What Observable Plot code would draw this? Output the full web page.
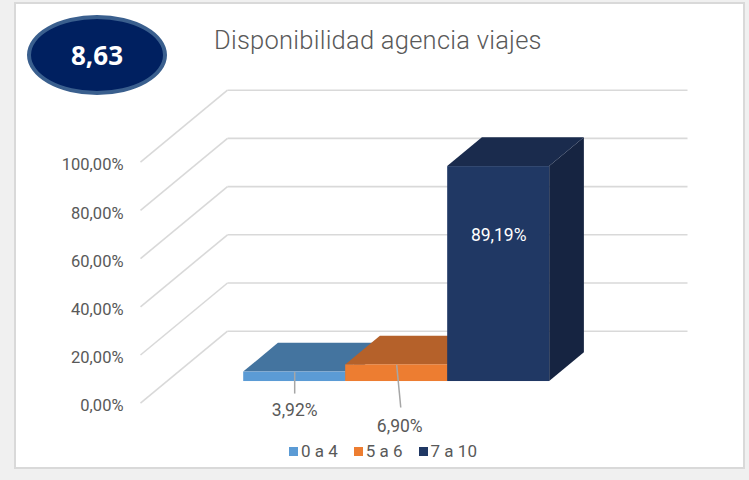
<!DOCTYPE html>
<html>
<head>
<meta charset="utf-8">
<script src="https://cdn.jsdelivr.net/npm/d3@7"></script>
<script src="https://cdn.jsdelivr.net/npm/@observablehq/plot@0.6"></script>
<style>
  html, body { margin: 0; padding: 0; }
  body { width: 749px; height: 480px; background: #f0f0f0; position: relative; overflow: hidden; font-family: Roboto, "Open Sans", sans-serif; }
  #card { position: absolute; left: 14px; top: 2px; width: 731px; height: 467px; background: #fff; border: 2px solid #d9d9d9; box-sizing: border-box; }
  #chart { position: absolute; left: 0; top: 0; }
  #chart svg { background: transparent; overflow: visible; }
  #badge { position: absolute; left: 27px; top: 15px; width: 140px; height: 80px; box-sizing: border-box; border-radius: 50%;
           background: #002060; border: 4px solid #3a5f8e; color: #fff; font: 700 26px "Open Sans", sans-serif;
           display: flex; align-items: center; justify-content: center; }
  #title { position: absolute; left: 214px; top: 28px; font: 300 25.5px Roboto, sans-serif; letter-spacing: 0.25px; line-height: 1; color: #595959; white-space: nowrap; }
  #legend { position: absolute; top: 441px; left: 289px; }
  .lg-swatches-wrap { min-height: 18px !important; margin: 0 !important; }
  .lg-swatches-wrap .lg-swatch { margin-right: 16px !important; }
  .lg-swatch > svg { margin-right: 3px !important; }
</style>
</head>
<body>
<div id="card"></div>
<div id="chart"></div>
<div id="badge"></div>
<div id="title"></div>
<div id="legend"></div>
<script>
// ---- data ----
const title = "Disponibilidad agencia viajes";
const badgeValue = "8,63";
const categories = ["0 a 4", "5 a 6", "7 a 10"];
const values = [0.0392, 0.0690, 0.8919];
const valueLabels = ["3,92%", "6,90%", "89,19%"];
const yTicks = [0, 0.2, 0.4, 0.6, 0.8, 1.0];
const yTickLabels = ["0,00%", "20,00%", "40,00%", "60,00%", "80,00%", "100,00%"];

// ---- styles ----
const frontColors = ["#5b9bd5", "#ed7d31", "#203864"];
const topColors   = ["#44749f", "#b5612a", "#1a2b4d"];
const sideColors  = ["#3a6690", "#a4561f", "#162441"];
const textColor = "#595959";
const gridColor = "#d9d9d9";

// ---- oblique 3D projection (depth z in [0,1]) ----
const KX = 0.853;   // x units per full depth
const KY = 0.2988;  // value units per full depth
const U0 = -0.755, U1 = 3.755;   // floor extent in category units
const ZF = 0.301, ZB = 0.70;     // bar front / back depth
const px = (u, z) => u + z * KX;
const py = (v, z) => v + z * KY;

// label placement (value units on bar front plane) and leader tilt
const labelAt = [-0.12, -0.185, 0.606];
const labelShift = [0, 0.03, 0];
const leaderEnd = [-0.05, -0.108, null];
const leaderShift = [0, 0.04, 0];

const bars = categories.map((c, i) => ({i, c, v: values[i], label: valueLabels[i]}));
const sidePts = bars.flatMap(d => [ZF, ZB].map(z => ({i: d.i, x: px(d.i + 1, z), y1: py(0, z), y2: py(d.v, z)})));
const topPts = bars.flatMap(d => [ZF, ZB].map(z => ({i: d.i, y: py(d.v, z), x1: px(d.i, z), x2: px(d.i + 1, z)})));
const ticks = yTicks.map((t, k) => ({t, label: yTickLabels[k]}));
const leaders = bars.filter(d => leaderEnd[d.i] !== null);

const plot = Plot.plot({
  width: 749,
  height: 480,
  margin: 0,
  x: {type: "linear", domain: [U0, U1 + KX], range: [140, 687], axis: null},
  y: {type: "linear", domain: [0, 1 + KY], range: [402.7, 89.7], axis: null},
  style: {fontFamily: "Roboto, 'Open Sans', sans-serif"},
  marks: [
    // back wall gridlines
    Plot.link(ticks, {x1: () => px(U0, 1), x2: () => px(U1, 1), y1: d => py(d.t, 1), y2: d => py(d.t, 1), stroke: gridColor, strokeWidth: 1.6}),
    // side wall gridlines
    Plot.link(ticks, {x1: () => px(U0, 0), x2: () => px(U0, 1), y1: d => py(d.t, 0), y2: d => py(d.t, 1), stroke: gridColor, strokeWidth: 1.6}),
    // tick labels
    Plot.text(ticks, {x: () => px(U0, 0), y: d => py(d.t, 0), text: "label", textAnchor: "end", dx: -17, dy: 3, fontSize: 16.5, fill: textColor}),
    // bar sides
    Plot.areaY(sidePts, {x: "x", y1: "y1", y2: "y2", z: "i", fill: d => sideColors[d.i], curve: "linear"}),
    // bar tops
    Plot.areaX(topPts, {y: "y", x1: "x1", x2: "x2", z: "i", fill: d => topColors[d.i], curve: "linear"}),
    // bar fronts
    Plot.rect(bars, {x1: d => px(d.i, ZF), x2: d => px(d.i + 1, ZF), y1: () => py(0, ZF), y2: d => py(d.v, ZF), fill: d => frontColors[d.i]}),
    // leader lines
    Plot.link(leaders, {x1: d => px(d.i + 0.5, ZF), y1: d => py(d.v, ZF), x2: d => px(d.i + 0.5 + leaderShift[d.i], ZF), y2: d => py(leaderEnd[d.i], ZF), stroke: "#a6a6a6", strokeWidth: 1.5}),
    // value labels
    Plot.text(bars, {x: d => px(d.i + 0.5 + labelShift[d.i], ZF), y: d => py(labelAt[d.i], ZF), text: "label", fontSize: 17.5,
                     fill: d => d.i === 2 ? "#ffffff" : textColor})
  ]
});
document.getElementById("chart").appendChild(plot);
document.getElementById("badge").textContent = badgeValue;
document.getElementById("title").textContent = title;

const legend = Plot.legend({
  color: {type: "ordinal", domain: categories, range: frontColors},
  swatchSize: 9,
  className: "lg",
  style: {fontSize: "17px", fontFamily: "Roboto, 'Open Sans', sans-serif", color: textColor}
});
document.getElementById("legend").appendChild(legend);
</script>
</body>
</html>
